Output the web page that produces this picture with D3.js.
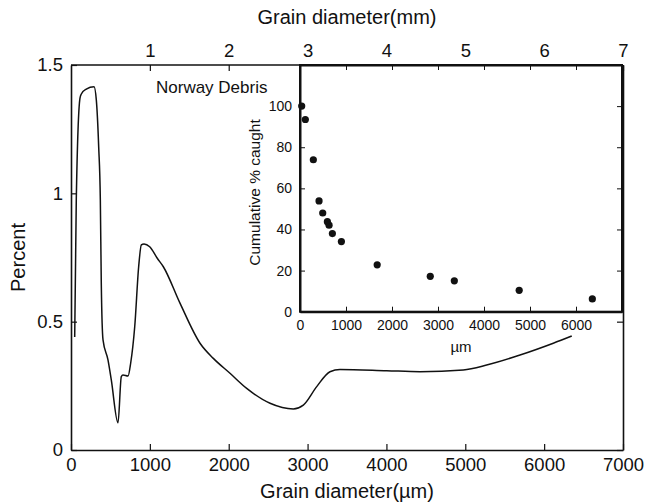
<!DOCTYPE html>
<html>
<head>
<meta charset="utf-8">
<script src="https://cdn.jsdelivr.net/npm/d3@7"></script>
<style>
  body { margin: 0; background: #fff; }
  svg text { font-family: "Liberation Sans", Arial, Helvetica, sans-serif; fill: #111; }
  .axis path, .axis line { stroke: #111; }
</style>
</head>
<body>
<div id="chart"></div>
<script>
// size distribution curve (grain diameter in µm, percent)
var grainUm = [47, 67, 114, 131, 194, 292, 321, 351, 372, 384, 406, 469, 511, 596, 638, 659, 723, 757, 808, 858, 892, 926, 998, 1094, 1171, 1382, 1636, 1805, 2016, 2228, 2524, 2819, 2946, 3116, 3284, 3411, 4003, 4426, 4975, 5271, 5694, 6116, 6350];
var percent = [0.44, 0.974, 1.371, 1.387, 1.406, 1.415, 1.364, 1.182, 0.974, 0.651, 0.429, 0.351, 0.273, 0.106, 0.286, 0.292, 0.288, 0.339, 0.48, 0.714, 0.799, 0.803, 0.792, 0.747, 0.714, 0.572, 0.416, 0.357, 0.299, 0.24, 0.182, 0.16, 0.175, 0.247, 0.305, 0.314, 0.309, 0.305, 0.312, 0.331, 0.37, 0.416, 0.444];

// inset: cumulative % caught
var insetUm = [37, 116, 290, 414, 494, 595, 632, 704, 900, 1678, 2832, 3355, 4765, 6355];
var insetCaught = [100, 93.5, 73.9, 53.9, 48, 43.8, 42.1, 38, 34.1, 22.8, 17.2, 15, 10.4, 6.2];

var umTicks = [0, 1000, 2000, 3000, 4000, 5000, 6000, 7000];
var mmTicks = [1, 2, 3, 4, 5, 6, 7];
var pctTicks = [0, 0.5, 1, 1.5];
var insetXTicks = [0, 1000, 2000, 3000, 4000, 5000, 6000];
var insetYTicks = [0, 20, 40, 60, 80, 100];

var width = 645, height = 504;
var margin = {left: 71, right: 22, top: 65, bottom: 54};

var svg = d3.select("#chart").append("svg")
    .attr("width", width)
    .attr("height", height);

var x = d3.scaleLinear().domain([0, 7000]).range([margin.left, width - margin.right]);
var y = d3.scaleLinear().domain([0, 1.5]).range([height - margin.bottom, margin.top]);
var xmm = d3.scaleLinear().domain([0, 7]).range(x.range());

var tickFont = "18.5px";
var plain = d => String(d);

// main bottom axis
var gBottom = svg.append("g")
    .attr("class", "axis")
    .attr("transform", `translate(0, ${y(0)})`)
    .call(d3.axisBottom(x).tickValues(umTicks).tickFormat(plain).tickSize(-6).tickPadding(8).tickSizeOuter(0));
gBottom.selectAll("text").style("font-size", tickFont);

// main left axis
var gLeft = svg.append("g")
    .attr("class", "axis")
    .attr("transform", `translate(${x(0)}, 0)`)
    .call(d3.axisLeft(y).tickValues(pctTicks).tickFormat(plain).tickSize(-6).tickPadding(8).tickSizeOuter(0));
gLeft.selectAll("text").style("font-size", tickFont);

// right side
svg.append("g")
    .attr("class", "axis")
    .attr("transform", `translate(${x(7000)}, 0)`)
    .call(d3.axisRight(y).tickValues(pctTicks).tickSize(-6).tickSizeOuter(0).tickFormat(""));

// top axis in mm
var gTop = svg.append("g")
    .attr("class", "axis")
    .attr("transform", `translate(0, ${y(1.5)})`)
    .call(d3.axisTop(xmm).tickValues(mmTicks).tickFormat(plain).tickSize(-6).tickPadding(8).tickSizeOuter(0));
gTop.selectAll("text").style("font-size", tickFont);
gTop.select(".domain").attr("d", `M${x(0)},0H${x(7000)}`);

svg.selectAll(".axis .domain").attr("stroke-width", 1.6);
svg.selectAll(".axis .tick line").attr("stroke-width", 1.2);

// curve
var line = d3.line()
    .x((d, i) => x(grainUm[i]))
    .y(d => y(d))
    .curve(d3.curveMonotoneX);

svg.append("path")
    .datum(percent)
    .attr("fill", "none")
    .attr("stroke", "#111")
    .attr("stroke-width", 1.5)
    .attr("d", line);

// axis titles
svg.append("text")
    .attr("x", (x(0) + x(7000)) / 2)
    .attr("y", 498)
    .attr("text-anchor", "middle")
    .style("font-size", "20px")
    .text("Grain diameter(\u00b5m)");

svg.append("text")
    .attr("x", (x(0) + x(7000)) / 2)
    .attr("y", 24)
    .attr("text-anchor", "middle")
    .style("font-size", "20px")
    .text("Grain diameter(mm)");

svg.append("text")
    .attr("transform", `translate(25, ${(y(0) + y(1.5)) / 2}) rotate(-90)`)
    .attr("text-anchor", "middle")
    .style("font-size", "20px")
    .text("Percent");

svg.append("text")
    .attr("x", 156)
    .attr("y", 93)
    .style("font-size", "17px")
    .text("Norway Debris");

// inset
var ix = d3.scaleLinear().domain([0, 7000]).range([300, 622]);
var iy = d3.scaleLinear().domain([0, 120]).range([311.7, 65]);

var inset = svg.append("g");

inset.append("rect")
    .attr("x", ix(0))
    .attr("y", iy(120))
    .attr("width", ix(7000) - ix(0))
    .attr("height", iy(0) - iy(120))
    .attr("fill", "#fff")
    .attr("stroke", "#111")
    .attr("stroke-width", 2);

var iBottom = inset.append("g")
    .attr("class", "axis")
    .attr("transform", `translate(0, ${iy(0)})`)
    .call(d3.axisBottom(ix).tickValues(insetXTicks).tickFormat(plain).tickSize(-5).tickPadding(8).tickSizeOuter(0));
iBottom.selectAll("text").style("font-size", "14px");

inset.append("g")
    .attr("class", "axis")
    .attr("transform", `translate(0, ${iy(120)})`)
    .call(d3.axisTop(ix).tickValues(insetXTicks.slice(1)).tickSize(-5).tickSizeOuter(0).tickFormat(""));

var iLeft = inset.append("g")
    .attr("class", "axis")
    .attr("transform", `translate(${ix(0)}, 0)`)
    .call(d3.axisLeft(iy).tickValues(insetYTicks).tickFormat(plain).tickSize(-5).tickPadding(8).tickSizeOuter(0));
iLeft.selectAll("text").style("font-size", "14px");

inset.append("g")
    .attr("class", "axis")
    .attr("transform", `translate(${ix(7000)}, 0)`)
    .call(d3.axisRight(iy).tickValues(insetYTicks.slice(1)).tickSize(-5).tickSizeOuter(0).tickFormat(""));

inset.selectAll(".axis .domain").attr("stroke-width", 2);
inset.selectAll(".axis .tick line").attr("stroke-width", 1);

inset.selectAll("circle.pt")
    .data(insetCaught)
    .enter()
    .append("circle")
    .attr("class", "pt")
    .attr("cx", (d, i) => ix(insetUm[i]))
    .attr("cy", d => iy(d))
    .attr("r", 3.6)
    .attr("fill", "#111");

inset.append("text")
    .attr("x", (ix(0) + ix(7000)) / 2)
    .attr("y", 352)
    .attr("text-anchor", "middle")
    .style("font-size", "15px")
    .text("\u00b5m");

inset.append("text")
    .attr("transform", `translate(260, ${iy(58)}) rotate(-90)`)
    .attr("text-anchor", "middle")
    .style("font-size", "15.5px")
    .text("Cumulative % caught");
</script>
</body>
</html>
